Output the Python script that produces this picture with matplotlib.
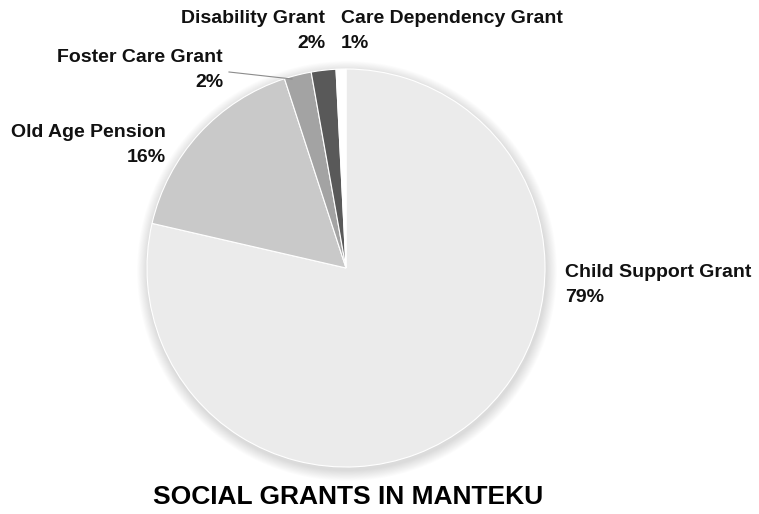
import matplotlib
matplotlib.use("Agg")
import matplotlib.pyplot as plt
from matplotlib.patches import Circle
from matplotlib import font_manager as fm

categories = ["Child Support Grant", "Old Age Pension", "Foster Care Grant",
              "Disability Grant", "Care Dependency Grant"]
values = [78.6, 16.4, 2.2, 2.0, 0.8]
colors = ["#ebebeb", "#c9c9c9", "#a3a3a3", "#595959", "#ffffff"]
title = "SOCIAL GRANTS IN MANTEKU"

names = {f.name for f in fm.fontManager.ttflist}
narrow = "Liberation Sans Narrow" in names
FONT = ["Liberation Sans Narrow", "Liberation Sans", "DejaVu Sans"] if narrow else ["Liberation Sans", "DejaVu Sans"]
plt.rcParams["font.family"] = FONT

W, H = 759, 514
fig = plt.figure(figsize=(W / 100, H / 100), dpi=100)
ax = fig.add_axes([0, 0, 1, 1])

cx, cy, r = 346, H - 268, 199

# soft shadow
for i in range(12):
    ax.add_patch(Circle((cx + 1, cy - 3), r + 1 + i * 0.9, color="black",
                        alpha=0.012, lw=0, zorder=0))

wedges, _ = ax.pie(values, colors=colors, startangle=90, counterclock=False,
                   center=(cx, cy), radius=r, frame=True,
                   wedgeprops=dict(edgecolor="white", linewidth=0.8))
ax.set_xlim(0, W)
ax.set_ylim(0, H)
ax.set_aspect("equal")
ax.axis("off")

total = sum(values)
pct = [f"{round(v / total * 100)}%" for v in values]

fs = 17 if narrow else 14
tfs = 25 if narrow else 19
kw = dict(fontsize=fs, fontweight="bold", color="#111111", linespacing=1.62)
ax.text(565, H - 285, f"{categories[0]}\n{pct[0]}", ha="left", va="center", **kw)
ax.text(166, H - 145, f"{categories[1]}\n{pct[1]}", ha="right", va="center", multialignment="right", **kw)
ax.text(223, H - 70, f"{categories[2]}\n{pct[2]}", ha="right", va="center", multialignment="right", **kw)
ax.text(325, H - 31, f"{categories[3]}\n{pct[3]}", ha="right", va="center", multialignment="right", **kw)
ax.text(341, H - 31, f"{categories[4]}\n{pct[4]}", ha="left", va="center", multialignment="left", **kw)
ax.plot([229, 292], [H - 72, H - 79], color="#8c8c8c", lw=0.8)

ax.text(348, H - 497, title, ha="center", va="center", fontsize=tfs,
        fontweight="bold", color="#000000")

fig.savefig("out.png", dpi=100)
